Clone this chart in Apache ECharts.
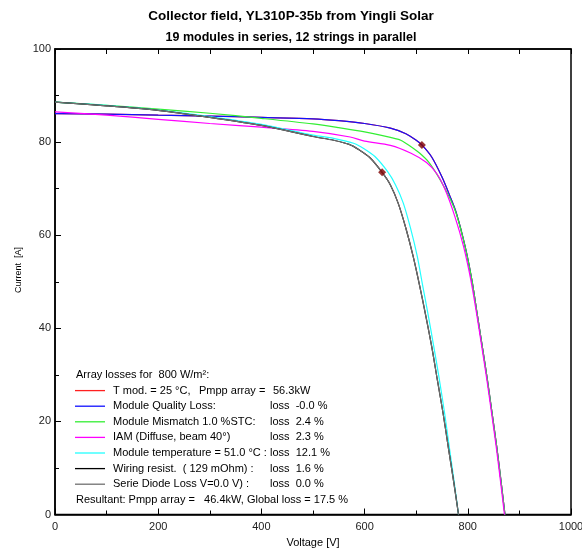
<!DOCTYPE html>
<html>
<head>
<meta charset="utf-8">
<script src="https://cdn.jsdelivr.net/npm/echarts@6/dist/echarts.min.js"></script>
<style>html,body{margin:0;padding:0;background:#fff}#c{width:582px;height:549px}</style>
</head>
<body>
<div id="c"></div>
<script>
// ---- data (voltage [V], current [A]) ----
const curveTmod = [[0,86.1],[100,86.0],[200,85.8],[300,85.6],[400,85.3],[500,85.0],[550,84.6],[600,84.0],[650,83.0],[680,81.8],[700,80.4],[711,79.4],[730,76.8],[750,72.5],[765,68.5],[778,64.7],[795,57.5],[808,50.3],[818,43.2],[828,36.1],[838,28.9],[847,21.8],[856,14.6],[864,7.5],[872,0]];
const curveQuality = [[0,86.1],[100,86.0],[200,85.8],[300,85.6],[400,85.3],[500,85.0],[550,84.6],[600,84.0],[650,83.0],[680,81.8],[700,80.4],[711,79.4],[730,76.8],[750,72.5],[765,68.5],[778,64.7],[795,57.5],[808,50.3],[818,43.2],[828,36.1],[838,28.9],[847,21.8],[856,14.6],[864,7.5],[872,0]];
const curveMismatch = [[0,88.6],[100,87.9],[200,87.1],[300,86.2],[400,85.1],[500,83.9],[550,83.1],[600,82.2],[650,81.0],[670,80.4],[690,79.0],[707,77.6],[725,75.6],[746,72.0],[765,68.0],[778,64.5],[795,57.4],[808,50.3],[818,43.2],[828,36.1],[838,28.9],[847,21.8],[856,14.6],[864,7.5],[872,0]];
const curveIAM = [[0,86.5],[100,85.8],[200,84.9],[300,84.0],[400,83.2],[500,82.3],[572,81.1],[600,80.2],[650,79.3],[690,77.6],[720,75.6],[740,73.2],[756,69.8],[775,64.0],[792,57.5],[806,50.3],[817,43.2],[827,36.1],[837,28.9],[846,21.8],[855,14.6],[863,7.5],[871,0]];
const curveTemp = [[0,88.6],[100,87.9],[200,86.9],[300,85.5],[400,83.8],[500,81.5],[540,80.8],[580,79.7],[600,78.5],[620,76.9],[645,73.6],[660,70.8],[675,66.9],[689,61.5],[702,55.5],[712,49.5],[723,43.0],[734,36.1],[745,28.9],[755,21.8],[764,14.6],[773,7.5],[782,0]];
const curveWiring = [[0,88.6],[100,87.8],[200,86.8],[300,85.3],[400,83.6],[500,81.2],[540,80.4],[570,79.5],[590,78.3],[610,76.7],[634,73.5],[650,70.8],[665,66.9],[680,61.5],[694,55.5],[706,49.5],[718,43.0],[730,36.1],[741,28.9],[752,21.8],[762,14.6],[772,7.5],[782,0]];
const curveDiode = [[0,88.6],[100,87.8],[200,86.8],[300,85.3],[400,83.6],[500,81.2],[540,80.4],[570,79.5],[590,78.3],[610,76.7],[634,73.5],[650,70.8],[665,66.9],[680,61.5],[694,55.5],[706,49.5],[718,43.0],[730,36.1],[741,28.9],[752,21.8],[762,14.6],[772,7.5],[782,0]];
const mppPoints = [[711,79.4],[634,73.5]];

const seriesNames = ['T mod. = 25 °C,', 'Module Quality Loss:', 'Module Mismatch 1.0 %STC:', 'IAM (Diffuse, beam 40°)', 'Module temperature = 51.0 °C :', 'Wiring resist.  ( 129 mOhm) :', 'Serie Diode Loss V=0.0 V) :'];
const lossTexts = ['', 'loss  -0.0 %', 'loss  2.4 %', 'loss  2.3 %', 'loss  12.1 %', 'loss  1.6 %', 'loss  0.0 %'];
const seriesColors = ['#ff2020', '#1010ff', '#33ee33', '#ff00ff', '#22ffff', '#000000', '#707070'];
const curves = [curveTmod, curveQuality, curveMismatch, curveIAM, curveTemp, curveWiring, curveDiode];
const legendHeader = 'Array losses for  800 W/m²:';
const legendFooter = 'Resultant: Pmpp array =   46.4kW, Global loss = 17.5 %';
const pmppLabel = 'Pmpp array =';
const pmppValue = '56.3kW';
const xTicks = [0, 1000, 200];
const yTicks = [0, 100, 20];

const chart = echarts.init(document.getElementById('c'), null, {renderer: 'canvas'});
const FONT = 'Liberation Sans, Arial, sans-serif';

const series = curves.map((d, i) => ({
  name: seriesNames[i], type: 'line', data: d, showSymbol: false, smooth: 0.3,
  lineStyle: {color: seriesColors[i], width: 1.2}, itemStyle: {color: seriesColors[i]},
  z: 2 + i, silent: true
}));
series.push({
  type: 'scatter', data: mppPoints, symbol: 'diamond', symbolSize: 8,
  itemStyle: {color: '#800000'}, z: 20
});

const graphics = [];
const lx1 = 75, lx2 = 105, tx = 113, lossX = 270, y0 = 375, dy = 15.6;
graphics.push({type: 'text', x: 76, y: y0, style: {text: legendHeader, font: '11px ' + FONT, fill: '#000', verticalAlign: 'middle'}});
seriesNames.forEach((n, i) => {
  const y = y0 + dy * (i + 1);
  graphics.push({type: 'line', shape: {x1: lx1, y1: y, x2: lx2, y2: y}, style: {stroke: seriesColors[i], lineWidth: 1.3}});
  graphics.push({type: 'text', x: tx, y: y, style: {text: n, font: '11px ' + FONT, fill: '#000', verticalAlign: 'middle'}});
  if (lossTexts[i]) graphics.push({type: 'text', x: lossX, y: y, style: {text: lossTexts[i], font: '11px ' + FONT, fill: '#000', verticalAlign: 'middle'}});
});
graphics.push({type: 'text', x: 199, y: y0 + dy, style: {text: pmppLabel, font: '11px ' + FONT, fill: '#000', verticalAlign: 'middle'}});
graphics.push({type: 'text', x: 273, y: y0 + dy, style: {text: pmppValue, font: '11px ' + FONT, fill: '#000', verticalAlign: 'middle'}});
graphics.push({type: 'text', x: 76, y: y0 + dy * 8, style: {text: legendFooter, font: '11px ' + FONT, fill: '#000', verticalAlign: 'middle'}});
graphics.push({type: 'text', x: 19, y: 270, rotation: Math.PI / 2, style: {text: 'Current  [A]', font: '9px ' + FONT, fill: '#000', align: 'center', verticalAlign: 'middle'}});

chart.setOption({
  animation: false,
  backgroundColor: '#fff',
  title: [
    {text: 'Collector field, YL310P-35b from Yingli Solar', left: 'center', top: 4, textStyle: {fontFamily: FONT, fontSize: 13.5, fontWeight: 'bold', color: '#000'}},
    {text: '19 modules in series, 12 strings in parallel', left: 'center', top: 26, textStyle: {fontFamily: FONT, fontSize: 12.5, fontWeight: 'bold', color: '#000'}}
  ],
  grid: {left: 55, right: 11, top: 49, bottom: 34.5, containLabel: false, outerBoundsMode: 'none', show: true, borderColor: '#000', borderWidth: 1.5},
  xAxis: [{
    type: 'value', min: xTicks[0], max: xTicks[1], interval: xTicks[2], position: 'bottom',
    name: 'Voltage [V]', nameLocation: 'middle', nameGap: 23,
    nameTextStyle: {fontFamily: FONT, fontSize: 11, color: '#000'},
    axisLine: {lineStyle: {color: '#000', width: 1.5}},
    axisTick: {inside: true, length: 6, lineStyle: {color: '#000'}},
    minorTick: {show: true, splitNumber: 2, length: 4, lineStyle: {color: '#000'}},
    splitLine: {show: false},
    axisLabel: {fontFamily: FONT, fontSize: 11, color: '#222', margin: 7, showMaxLabel: true, formatter: v => String(v)}
  }, {
    type: 'value', min: 0, max: 1000, interval: 100, position: 'top',
    axisLine: {show: true, lineStyle: {color: '#000', width: 1.5}},
    axisTick: {show: true, inside: true, length: 5, lineStyle: {color: '#000'}},
    axisLabel: {show: false}, splitLine: {show: false}
  }],
  yAxis: [{
    type: 'value', min: yTicks[0], max: yTicks[1], interval: yTicks[2],
    axisLine: {show: true, lineStyle: {color: '#000', width: 1.5}},
    axisTick: {show: true, inside: true, length: 6, lineStyle: {color: '#000'}},
    minorTick: {show: true, splitNumber: 2, length: 4, lineStyle: {color: '#000'}},
    splitLine: {show: false},
    axisLabel: {fontFamily: FONT, fontSize: 11, color: '#222', margin: 4, formatter: v => String(v)}
  }],
  graphic: graphics,
  series: series
});
</script>
</body>
</html>
